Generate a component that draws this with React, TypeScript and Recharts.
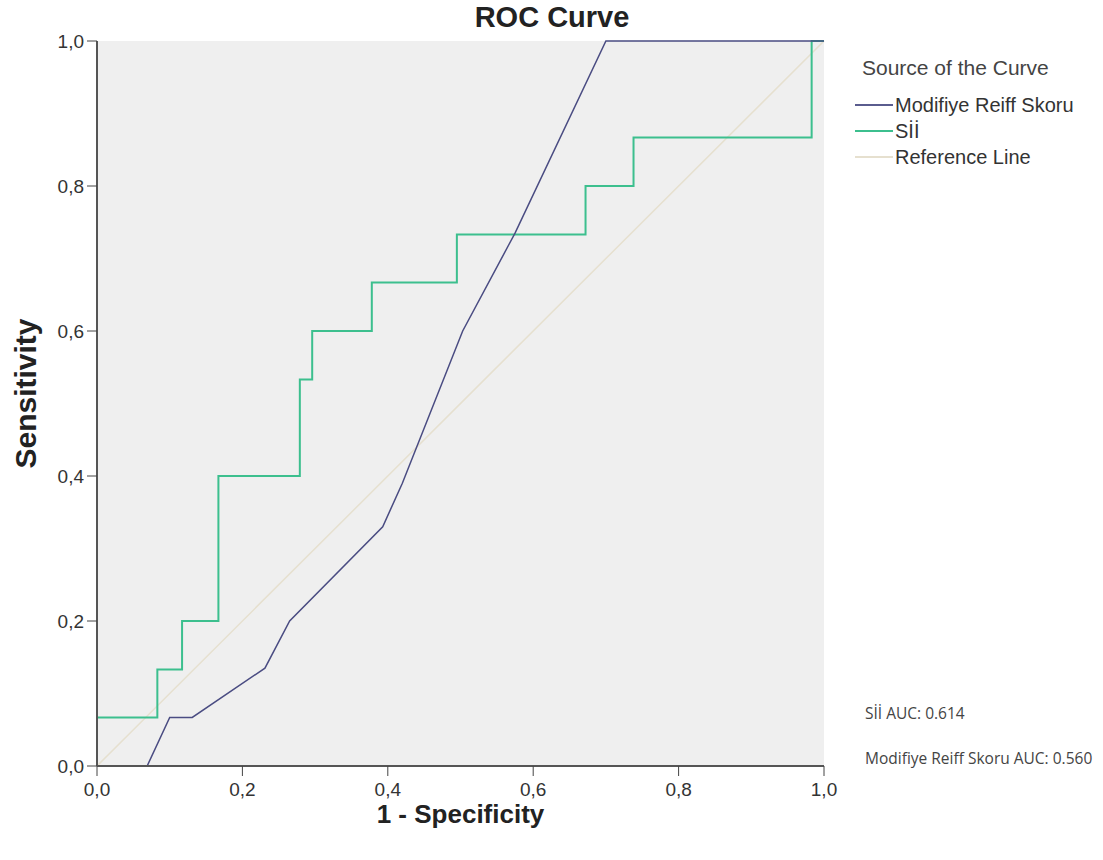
import React from 'react';
import {
  LineChart, Line, XAxis, YAxis, CartesianGrid
} from 'recharts';

// ROC points (x = 1 - specificity, y = sensitivity)
const siiX = [0, 0, 0.083, 0.083, 0.117, 0.117, 0.167, 0.167, 0.279, 0.279, 0.296, 0.296, 0.378, 0.378, 0.495, 0.495, 0.672, 0.672, 0.738, 0.738, 0.983, 0.983, 1];
const siiY = [0, 0.067, 0.067, 0.133, 0.133, 0.2, 0.2, 0.4, 0.4, 0.533, 0.533, 0.6, 0.6, 0.667, 0.667, 0.733, 0.733, 0.8, 0.8, 0.867, 0.867, 1, 1];

const reiffX = [0, 0.069, 0.1, 0.131, 0.231, 0.265, 0.393, 0.42, 0.503, 0.575, 0.7, 1];
const reiffY = [0, 0, 0.067, 0.067, 0.135, 0.2, 0.33, 0.39, 0.6, 0.735, 1, 1];

const refX = [0, 1];
const refY = [0, 1];

const ticks = [0, 0.2, 0.4, 0.6, 0.8, 1];

const legendItems = [
  { name: 'Modifiye Reiff Skoru', color: '#5a5c8e' },
  { name: 'Sİİ', color: '#3cbf8e' },
  { name: 'Reference Line', color: '#e6e0cf' },
];

const aucLines = ['Sİİ AUC: 0.614', 'Modifiye Reiff Skoru AUC: 0.560'];

const toPoints = (xs: number[], ys: number[]) => xs.map((x, i) => ({ x, y: ys[i] }));

const siiData = toPoints(siiX, siiY);
const reiffData = toPoints(reiffX, reiffY);
const refData = toPoints(refX, refY);

const fmt = (v: number) => v.toFixed(1).replace('.', ',');

const FONT = '"Liberation Sans", Arial, sans-serif';

export default function App() {
  return (
    <div style={{ position: 'absolute', left: 0, top: 0, width: 1103, height: 860, background: '#fff' }}>
      <div style={{
        position: 'absolute', left: 0, width: 1104, top: 0, textAlign: 'center',
        fontFamily: FONT, fontWeight: 'bold', fontSize: 29, lineHeight: '34px', color: '#222'
      }}>
        ROC Curve
      </div>

      {/* legend */}
      <div style={{ position: 'absolute', left: 855, top: 55, fontFamily: FONT, color: '#333' }}>
        <div style={{ fontSize: 21, lineHeight: '26px', marginLeft: 7, marginBottom: 11, color: '#444' }}>Source of the Curve</div>
        {legendItems.map(item => (
          <div key={item.name} style={{ display: 'flex', alignItems: 'center', height: 26, fontSize: 20 }}>
            <span style={{ display: 'inline-block', width: 38, height: 2, background: item.color, marginRight: 2 }} />
            <span>{item.name}</span>
          </div>
        ))}
      </div>

      <LineChart width={1103} height={860} margin={{ top: 41, right: 279, left: 15, bottom: 64 }}>
        <CartesianGrid fill="#efefef" horizontal={false} vertical={false} />
        <XAxis
          xAxisId="bottom"
          type="number"
          dataKey="x"
          domain={[0, 1]}
          ticks={ticks}
          tickFormatter={fmt}
          height={30}
          tickSize={10}
          tickMargin={7}
          stroke="#444"
          axisLine={{ stroke: '#555', strokeWidth: 2 }}
          tick={{ fill: '#333', fontSize: 19, fontFamily: FONT }}
          label={{ value: '1 - Specificity', position: 'bottom', offset: 9, fill: '#222', fontSize: 26, fontWeight: 'bold', fontFamily: FONT }}
        />
        <XAxis xAxisId="top" orientation="top" type="number" dataKey="x" domain={[0, 1]} height={0} tick={false} tickLine={false} axisLine={{ stroke: '#555', strokeWidth: 2 }} />
        <YAxis
          yAxisId="left"
          type="number"
          dataKey="y"
          domain={[0, 1]}
          ticks={ticks}
          tickFormatter={fmt}
          width={82}
          tickSize={10}
          tickMargin={3}
          stroke="#444"
          axisLine={{ stroke: '#555', strokeWidth: 2 }}
          tick={{ fill: '#333', fontSize: 19, fontFamily: FONT }}
          label={{ value: 'Sensitivity', angle: -90, position: 'insideLeft', offset: 10, dy: -10, fill: '#222', fontSize: 30, fontWeight: 'bold', fontFamily: FONT, style: { textAnchor: 'middle' } }}
        />
        <YAxis yAxisId="right" orientation="right" type="number" dataKey="y" domain={[0, 1]} width={0} tick={false} tickLine={false} axisLine={{ stroke: '#555', strokeWidth: 2 }} />
        <Line xAxisId="bottom" yAxisId="left" data={refData} dataKey="y" name="Reference Line" type="linear" stroke="#e6e0cf" strokeWidth={1.5} dot={false} isAnimationActive={false} />
        <Line xAxisId="bottom" yAxisId="left" data={siiData} dataKey="y" name="Sİİ" type="linear" stroke="#3cbf8e" strokeWidth={2} dot={false} isAnimationActive={false} />
        <Line xAxisId="bottom" yAxisId="left" data={reiffData} dataKey="y" name="Modifiye Reiff Skoru" type="linear" stroke="#4a4c82" strokeWidth={1.5} dot={false} isAnimationActive={false} />
      </LineChart>

      {aucLines.map((t, i) => (
        <div key={t} style={{
          position: 'absolute', left: 865, top: 702 + i * 45,
          fontFamily: '"Open Sans", sans-serif', fontSize: 15.5, color: '#444'
        }}>
          {t}
        </div>
      ))}
    </div>
  );
}
